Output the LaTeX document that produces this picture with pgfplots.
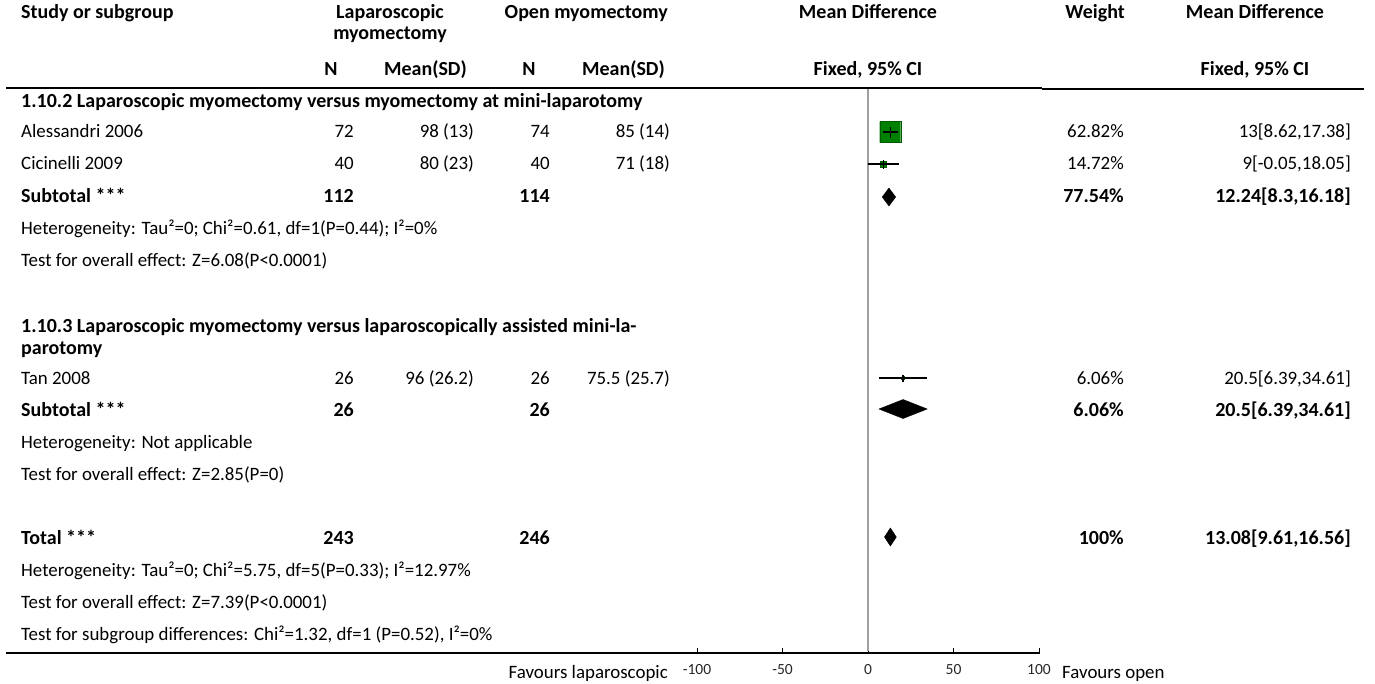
\documentclass[border=0pt]{standalone}
\usepackage{pgfplots}
\pgfplotsset{compat=1.18}
\usepackage{fontspec}
\setmainfont{Carlito}
\definecolor{sqgreen}{RGB}{0,128,0}
\newcommand{\fs}{\fontsize{18.9}{22}\selectfont}
\newcommand{\fb}{\fontsize{20}{23}\selectfont\bfseries}
\newcommand{\fticks}{\fontsize{15.5}{17}\selectfont}
\begin{document}
\begin{tikzpicture}
\begin{axis}[
  at={(697pt,-653pt)}, anchor=south west,
  scale only axis, width=342pt, height=565pt,
  xmin=-100, xmax=100, ymin=88, ymax=653, y dir=reverse,
  axis x line*=bottom, axis y line=none,
  x axis line style={draw=none},
  xtick={-100,-50,0,50,100},
  xticklabels={},
  xtick align=inside, major tick length=5pt,
  tick style={black, line width=0.8pt},
  clip=false,
]
% zero line
\addplot[gray!75, line width=1.3pt] coordinates {(0,89) (0,651)};
% Alessandri 2006
\addplot[fill=sqgreen, draw=sqgreen!70!black, line width=0.4pt] coordinates {(6.86,121.5) (19.14,121.5) (19.14,142.5) (6.86,142.5) (6.86,121.5)};
\addplot[black, line width=1.3pt] coordinates {(8.62,132) (17.38,132)};
\addplot[black, line width=1.3pt] coordinates {(13,126.5) (13,137.5)};
% Cicinelli 2009
\addplot[fill=sqgreen, draw=sqgreen!70!black, line width=0.4pt] coordinates {(7.25,161) (10.75,161) (10.75,167) (7.25,167) (7.25,161)};
\addplot[black, line width=1.3pt] coordinates {(-0.05,164) (18.05,164)};
\addplot[black, line width=1.3pt] coordinates {(9,159.5) (9,168.5)};
% Subtotal 1
\addplot[fill=black, draw=black] coordinates {(8.3,197) (12.24,188) (16.18,197) (12.24,206) (8.3,197)};
% Tan 2008
\addplot[fill=sqgreen, draw=sqgreen!70!black, line width=0.4pt] coordinates {(19.6,376.5) (21.4,376.5) (21.4,379.5) (19.6,379.5) (19.6,376.5)};
\addplot[black, line width=1.3pt] coordinates {(6.39,378) (34.61,378)};
\addplot[black, line width=1.3pt] coordinates {(20.5,374.5) (20.5,381.5)};
% Subtotal 2
\addplot[fill=black, draw=black] coordinates {(6.39,409) (20.5,399.5) (34.61,409) (20.5,418.5) (6.39,409)};
% Total
\addplot[fill=black, draw=black] coordinates {(9.61,537) (13.08,528) (16.56,537) (13.08,546) (9.61,537)};
% tick labels
\node[anchor=base, font=\fticks, text=black!85, inner sep=0pt] at (axis cs:-100,674) {-100};
\node[anchor=base, font=\fticks, text=black!85, inner sep=0pt] at (axis cs:-50,674) {-50};
\node[anchor=base, font=\fticks, text=black!85, inner sep=0pt] at (axis cs:0,674) {0};
\node[anchor=base, font=\fticks, text=black!85, inner sep=0pt] at (axis cs:50,674) {50};
\node[anchor=base, font=\fticks, text=black!85, inner sep=0pt] at (axis cs:100,674) {100};
\end{axis}
\begin{scope}[x=1pt, y=-1pt, every node/.style={inner sep=0pt, font=\fs}]
\path[use as bounding box] (0,0) rectangle (1375,684);
% rules
\draw[black, line width=1.4pt] (6,88) -- (1042,88);
\draw[black, line width=1.4pt] (1042,89.2) -- (1364,89.2);
\draw[black, line width=1.4pt] (6,653) -- (1040,653);
% header
\node[anchor=base west, font=\fb] at (21,19) {Study or subgroup};
\node[anchor=base, font=\fb] at (390,19) {Laparoscopic};
\node[anchor=base, font=\fb] at (390,40) {myomectomy};
\node[anchor=base east, font=\fb] at (668,19) {Open myomectomy};
\node[anchor=base, font=\fb] at (868,19) {Mean Difference};
\node[anchor=base east, font=\fb] at (1125,19) {Weight};
\node[anchor=base, font=\fb] at (1255,19) {Mean Difference};
\node[anchor=base, font=\fb] at (331,76) {N};
\node[anchor=base east, font=\fb] at (467,76) {Mean(SD)};
\node[anchor=base, font=\fb] at (529,76) {N};
\node[anchor=base east, font=\fb] at (665,76) {Mean(SD)};
\node[anchor=base, font=\fb] at (868,76) {Fixed, 95\% CI};
\node[anchor=base, font=\fb] at (1255,76) {Fixed, 95\% CI};
% group 1
\node[anchor=base west, font=\fb] at (21,108) {1.10.2 Laparoscopic myomectomy versus myomectomy at mini-laparotomy};
\node[anchor=base west] at (21,138) {Alessandri 2006};
\node[anchor=base east] at (354,138) {72};
\node[anchor=base east] at (474,138) {98 (13)};
\node[anchor=base east] at (550,138) {74};
\node[anchor=base east] at (670,138) {85 (14)};
\node[anchor=base east] at (1124,138) {62.82\%};
\node[anchor=base east] at (1351,138) {13[8.62,17.38]};
\node[anchor=base west] at (21,170) {Cicinelli 2009};
\node[anchor=base east] at (354,170) {40};
\node[anchor=base east] at (474,170) {80 (23)};
\node[anchor=base east] at (550,170) {40};
\node[anchor=base east] at (670,170) {71 (18)};
\node[anchor=base east] at (1124,170) {14.72\%};
\node[anchor=base east] at (1351,170) {9[-0.05,18.05]};
\node[anchor=base west, font=\fb] at (21,203) {Subtotal ***};
\node[anchor=base east, font=\fb] at (354,203) {112};
\node[anchor=base east, font=\fb] at (550,203) {114};
\node[anchor=base east, font=\fb] at (1124,203) {77.54\%};
\node[anchor=base east, font=\fb] at (1351,203) {12.24[8.3,16.18]};
\node[anchor=base west] at (21,235) {Heterogeneity: Tau²=0; Chi²=0.61, df=1(P=0.44); I²=0\%};
\node[anchor=base west] at (21,267) {Test for overall effect: Z=6.08(P<0.0001)};
% group 2
\node[anchor=base west, font=\fb] at (21,333) {1.10.3 Laparoscopic myomectomy versus laparoscopically assisted mini-la-};
\node[anchor=base west, font=\fb] at (21,354) {parotomy};
\node[anchor=base west] at (21,384) {Tan 2008};
\node[anchor=base east] at (354,384) {26};
\node[anchor=base east] at (474,384) {96 (26.2)};
\node[anchor=base east] at (550,384) {26};
\node[anchor=base east] at (670,384) {75.5 (25.7)};
\node[anchor=base east] at (1124,384) {6.06\%};
\node[anchor=base east] at (1351,384) {20.5[6.39,34.61]};
\node[anchor=base west, font=\fb] at (21,416) {Subtotal ***};
\node[anchor=base east, font=\fb] at (354,416) {26};
\node[anchor=base east, font=\fb] at (550,416) {26};
\node[anchor=base east, font=\fb] at (1124,416) {6.06\%};
\node[anchor=base east, font=\fb] at (1351,416) {20.5[6.39,34.61]};
\node[anchor=base west] at (21,448) {Heterogeneity: Not applicable};
\node[anchor=base west] at (21,480) {Test for overall effect: Z=2.85(P=0)};
% total
\node[anchor=base west, font=\fb] at (21,544) {Total ***};
\node[anchor=base east, font=\fb] at (354,544) {243};
\node[anchor=base east, font=\fb] at (550,544) {246};
\node[anchor=base east, font=\fb] at (1124,544) {100\%};
\node[anchor=base east, font=\fb] at (1351,544) {13.08[9.61,16.56]};
\node[anchor=base west] at (21,576) {Heterogeneity: Tau²=0; Chi²=5.75, df=5(P=0.33); I²=12.97\%};
\node[anchor=base west] at (21,608) {Test for overall effect: Z=7.39(P<0.0001)};
\node[anchor=base west] at (21,640) {Test for subgroup differences: Chi²=1.32, df=1 (P=0.52), I²=0\%};
% favours
\node[anchor=base east] at (668,678) {Favours laparoscopic};
\node[anchor=base west] at (1062,678) {Favours open};
\end{scope}
\end{tikzpicture}
\end{document}
